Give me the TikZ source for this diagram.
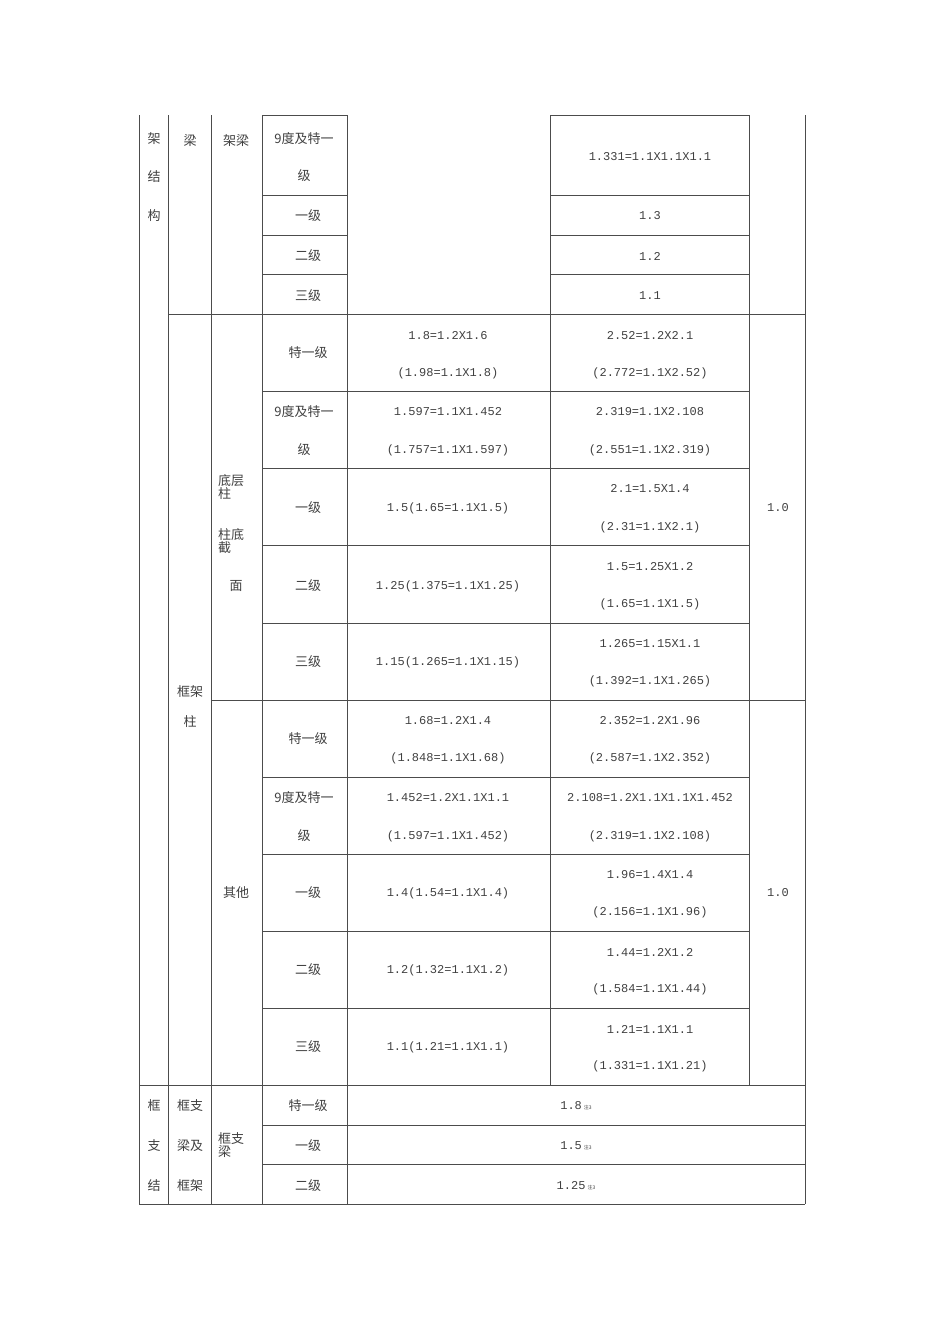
\documentclass[tikz,border=0pt]{standalone}
\usepackage{fontspec}
\setmainfont{Noto Sans CJK SC}
\newfontfamily\numf{Liberation Mono}
\begin{document}
\begin{tikzpicture}[x=1pt,y=-1pt,
  t/.style={font=\fontsize{13}{15}\selectfont,text=black!75,inner sep=0pt},
  n/.style={font=\numf\fontsize{12}{14}\selectfont,text=black!75,inner sep=0pt},
  g/.style={draw=black!70,line width=0.8pt}]
\useasboundingbox (0,0) rectangle (950,1344);
% verticals
\draw[g] (139,115)--(139,1204) (168,115)--(168,1204) (211,115)--(211,1204)
 (262,115)--(262,1204) (347,115)--(347,1204) (550,115)--(550,1085)
 (749,115)--(749,1085) (805,115)--(805,1204);
% horizontals
\draw[g] (262,115)--(347,115) (550,115)--(749,115);
\foreach \y in {195,235,274}{\draw[g] (262,\y)--(347,\y) (550,\y)--(749,\y);}
\draw[g] (168,314)--(805,314);
\foreach \y in {391,468,545,623,777,854,931,1008}{\draw[g] (262,\y)--(749,\y);}
\draw[g] (211,700)--(805,700);
\draw[g] (139,1085)--(805,1085);
\foreach \y in {1125,1164}{\draw[g] (262,\y)--(805,\y);}
\draw[g] (139,1204)--(805,1204);
% left labels
\node[t] (a1) at (154,139) {架};
\node[t] (a2) at (154,177) {结};
\node[t] (a3) at (154,216) {构};
\node[t] (b1) at (190,141) {梁};
\node[t] (c1) at (236,141) {架梁};
\node[t] (d1) at (304,139) {9度及特一};
\node[t] (d2) at (304,176) {级};
\node[n] (e1) at (650,157) {1.331=1.1X1.1X1.1};
\node[t] (d3) at (308,216) {一级};\node[n] (e2) at (650,216) {1.3};
\node[t] (d4) at (308,256) {二级};\node[n] (e3) at (650,256) {1.2};
\node[t] (d5) at (308,296) {三级};\node[n] (e4) at (650,296) {1.1};
% column 框架柱
\node[t] (f1) at (190,692) {框架};
\node[t] (f2) at (190,722) {柱};
\node[t,align=left,anchor=west] (g1) at (218,487) {底层\\[-2pt]柱};
\node[t,align=left,anchor=west] (g2) at (218,541) {柱底\\[-2pt]截};
\node[t] (g3) at (236,586) {面};
\node[t] (g4) at (236,893) {其他};
\node[n] (h1) at (778,508) {1.0};
\node[n] (h2) at (778,893) {1.0};
% rows
\node[t] (r1a) at (308,353) {特一级};
\node[n] (r1b) at (448,336) {1.8=1.2X1.6};\node[n] (r1c) at (448,373) {(1.98=1.1X1.8)};
\node[n] (r1d) at (650,336) {2.52=1.2X2.1};\node[n] (r1e) at (650,373) {(2.772=1.1X2.52)};
\node[t] (r2a) at (304,412) {9度及特一};\node[t] (r2f) at (304,450) {级};
\node[n] (r2b) at (448,412) {1.597=1.1X1.452};\node[n] (r2c) at (448,450) {(1.757=1.1X1.597)};
\node[n] (r2d) at (650,412) {2.319=1.1X2.108};\node[n] (r2e) at (650,450) {(2.551=1.1X2.319)};
\node[t] (r3a) at (308,508) {一级};
\node[n] (r3b) at (448,508) {1.5(1.65=1.1X1.5)};
\node[n] (r3d) at (650,489) {2.1=1.5X1.4};\node[n] (r3e) at (650,527) {(2.31=1.1X2.1)};
\node[t] (r4a) at (308,586) {二级};
\node[n] (r4b) at (448,586) {1.25(1.375=1.1X1.25)};
\node[n] (r4d) at (650,567) {1.5=1.25X1.2};\node[n] (r4e) at (650,604) {(1.65=1.1X1.5)};
\node[t] (r5a) at (308,662) {三级};
\node[n] (r5b) at (448,662) {1.15(1.265=1.1X1.15)};
\node[n] (r5d) at (650,644) {1.265=1.15X1.1};\node[n] (r5e) at (650,681) {(1.392=1.1X1.265)};
\node[t] (s1a) at (308,739) {特一级};
\node[n] (s1b) at (448,721) {1.68=1.2X1.4};\node[n] (s1c) at (448,758) {(1.848=1.1X1.68)};
\node[n] (s1d) at (650,721) {2.352=1.2X1.96};\node[n] (s1e) at (650,758) {(2.587=1.1X2.352)};
\node[t] (s2a) at (304,798) {9度及特一};\node[t] (s2f) at (304,836) {级};
\node[n] (s2b) at (448,798) {1.452=1.2X1.1X1.1};\node[n] (s2c) at (448,836) {(1.597=1.1X1.452)};
\node[n] (s2d) at (650,798) {2.108=1.2X1.1X1.1X1.452};\node[n] (s2e) at (650,836) {(2.319=1.1X2.108)};
\node[t] (s3a) at (308,893) {一级};
\node[n] (s3b) at (448,893) {1.4(1.54=1.1X1.4)};
\node[n] (s3d) at (650,875) {1.96=1.4X1.4};\node[n] (s3e) at (650,912) {(2.156=1.1X1.96)};
\node[t] (s4a) at (308,970) {二级};
\node[n] (s4b) at (448,970) {1.2(1.32=1.1X1.2)};
\node[n] (s4d) at (650,952) {1.44=1.2X1.2};\node[n] (s4e) at (650,989) {(1.584=1.1X1.44)};
\node[t] (s5a) at (308,1047) {三级};
\node[n] (s5b) at (448,1047) {1.1(1.21=1.1X1.1)};
\node[n] (s5d) at (650,1029) {1.21=1.1X1.1};\node[n] (s5e) at (650,1066) {(1.331=1.1X1.21)};
% bottom section
\node[t] (k1) at (154,1106) {框};\node[t] (k2) at (154,1146) {支};\node[t] (k3) at (154,1186) {结};
\node[t] (l1) at (190,1106) {框支};\node[t] (l2) at (190,1146) {梁及};\node[t] (l3) at (190,1186) {框架};
\node[t,align=left,anchor=west] (m1) at (218,1145) {框支\\[-2pt]梁};
\node[t] (n1) at (308,1106) {特一级};\node[n] (p1) at (576,1106) {1.8\,{\rmfamily\fontsize{5}{6}\selectfont 注3}};
\node[t] (n2) at (308,1146) {一级};\node[n] (p2) at (576,1146) {1.5\,{\rmfamily\fontsize{5}{6}\selectfont 注3}};
\node[t] (n3) at (308,1186) {二级};\node[n] (p3) at (576,1186) {1.25\,{\rmfamily\fontsize{5}{6}\selectfont 注3}};
\end{tikzpicture}
\end{document}
